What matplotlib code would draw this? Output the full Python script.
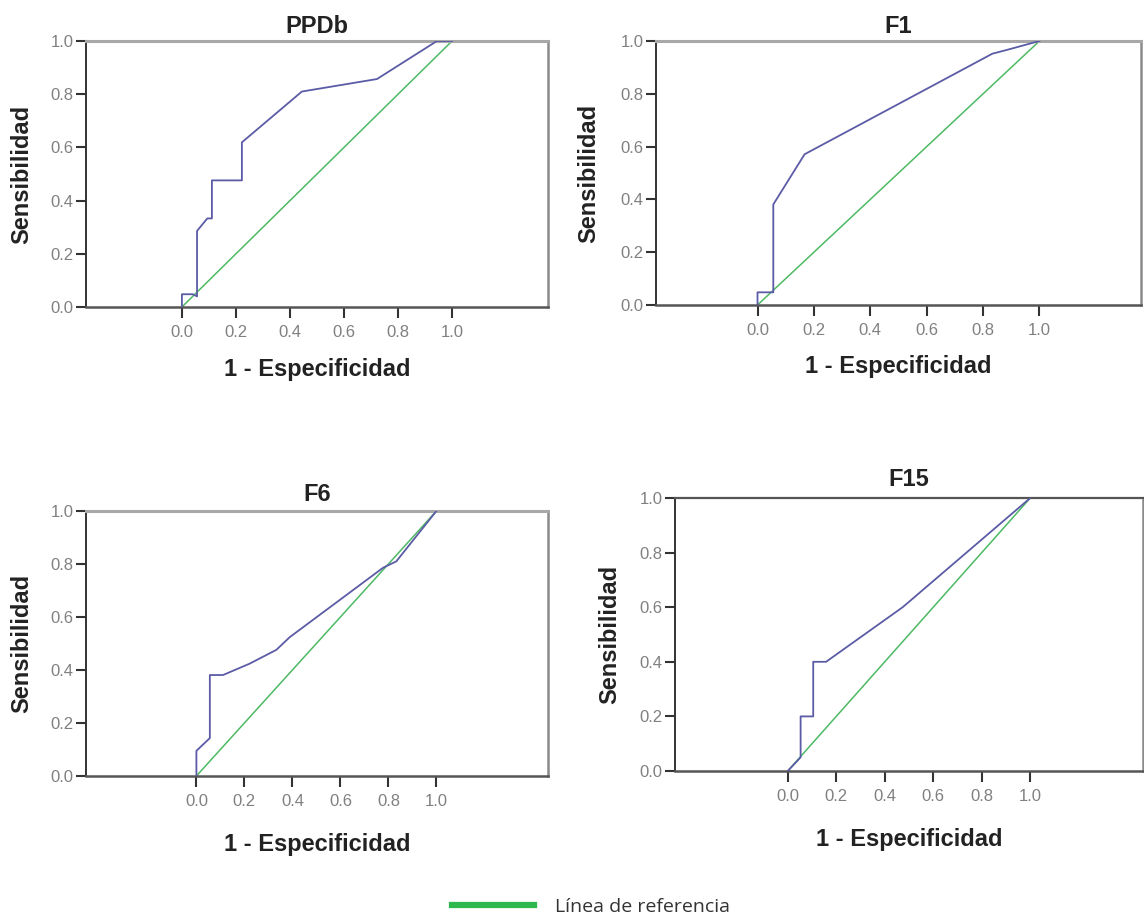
import matplotlib
matplotlib.use("Agg")
import matplotlib.pyplot as plt
from matplotlib.lines import Line2D

# ROC curves (1 - especificidad, sensibilidad)
ppdb_fpr = [0.0, 0.0, 0.040, 0.056, 0.056, 0.094, 0.111, 0.111, 0.222, 0.222, 0.444, 0.722, 0.944, 1.0]
ppdb_tpr = [0.0, 0.048, 0.048, 0.040, 0.286, 0.333, 0.333, 0.476, 0.476, 0.619, 0.810, 0.857, 1.0, 1.0]

f1_fpr = [0.0, 0.0, 0.056, 0.056, 0.167, 0.833, 0.880, 1.0]
f1_tpr = [0.0, 0.048, 0.048, 0.381, 0.571, 0.952, 0.965, 1.0]

f6_fpr = [0.0, 0.0, 0.056, 0.056, 0.111, 0.222, 0.333, 0.389, 0.778, 0.833, 1.0]
f6_tpr = [0.0, 0.095, 0.143, 0.381, 0.381, 0.424, 0.476, 0.524, 0.786, 0.810, 1.0]

f15_fpr = [0.0, 0.053, 0.053, 0.105, 0.105, 0.158, 0.474, 0.737, 1.0]
f15_tpr = [0.0, 0.050, 0.2, 0.2, 0.4, 0.4, 0.6, 0.8, 1.0]

ref_line = [0.0, 1.0]
tick_vals = [0.0, 0.2, 0.4, 0.6, 0.8, 1.0]
tick_labels = ["0.0", "0.2", "0.4", "0.6", "0.8", "1.0"]

titles = ["PPDb", "F1", "F6", "F15"]
legend_label = "Línea de referencia"

plt.rcParams["font.family"] = ["Liberation Sans", "DejaVu Sans"]

BLUE = "#5b5ba6"
GREEN = "#4dba63"


def draw_roc(ax, title, fpr, tpr, xlim, title_pad, xlabel_y):
    ax.plot(ref_line, ref_line, color=GREEN, lw=1.1, zorder=2)
    ax.plot(fpr, tpr, color=BLUE, lw=1.3, zorder=3)
    ax.set_xlim(xlim)
    ax.set_ylim(0, 1)
    ax.set_xticks(tick_vals)
    ax.set_xticklabels(tick_labels)
    ax.set_yticks(tick_vals)
    ax.set_yticklabels(tick_labels)
    ax.tick_params(axis="x", direction="out", length=8, width=1.5, pad=5,
                   color="#333333", labelcolor="#808080", labelsize=12)
    ax.tick_params(axis="y", direction="out", length=7, width=1.5, pad=2,
                   color="#333333", labelcolor="#808080", labelsize=12)
    ax.spines["left"].set_color("#333333")
    ax.spines["left"].set_linewidth(1.4)
    ax.spines["bottom"].set_color("#555555")
    ax.spines["bottom"].set_linewidth(1.8)
    ax.spines["top"].set_color("#a8a8a8")
    ax.spines["top"].set_linewidth(2.2)
    ax.spines["right"].set_color("#8a8a8a")
    ax.spines["right"].set_linewidth(1.8)
    ax.set_title(title, fontsize=17, fontweight="bold", color="#222222", pad=title_pad)
    ax.set_xlabel("1 - Especificidad", fontsize=17, fontweight="bold", color="#222222")
    ax.set_ylabel("Sensibilidad", fontsize=17, fontweight="bold", color="#222222")
    ax.xaxis.set_label_coords(0.5, xlabel_y)
    ax.yaxis.set_label_coords(-0.115, 0.5)


fig = plt.figure(figsize=(11.44, 9.17), dpi=100)
W, H = 1144, 917


def box(left, right, top, bottom):
    return [left / W, 1 - bottom / H, (right - left) / W, (bottom - top) / H]


ax1 = fig.add_axes(box(86, 548, 41, 307))
ax2 = fig.add_axes(box(656, 1141, 41, 305))
ax3 = fig.add_axes(box(86, 548, 511, 776))
ax4 = fig.add_axes(box(675, 1143, 498, 771))

draw_roc(ax1, titles[0], ppdb_fpr, ppdb_tpr, (-0.355, 1.355), 6, -0.19)
draw_roc(ax2, titles[1], f1_fpr, f1_tpr, (-0.36, 1.36), 6, -0.19)
draw_roc(ax3, titles[2], f6_fpr, f6_tpr, (-0.46, 1.465), 7, -0.215)
draw_roc(ax4, titles[3], f15_fpr, f15_tpr, (-0.465, 1.465), 9, -0.21)
ax4.spines["top"].set_color("#555555")
ax4.spines["top"].set_linewidth(1.6)

handle = Line2D([], [], color="#2fb84e", lw=4.5)
fig.legend([handle], [legend_label], loc="center", bbox_to_anchor=(591 / W, 1 - 907 / H),
           frameon=False, handlelength=4.2, handletextpad=1.1,
           prop={"family": ["Open Sans", "DejaVu Sans"], "size": 14}, labelcolor="#333333")

fig.savefig("out.png", dpi=100, facecolor="white")
